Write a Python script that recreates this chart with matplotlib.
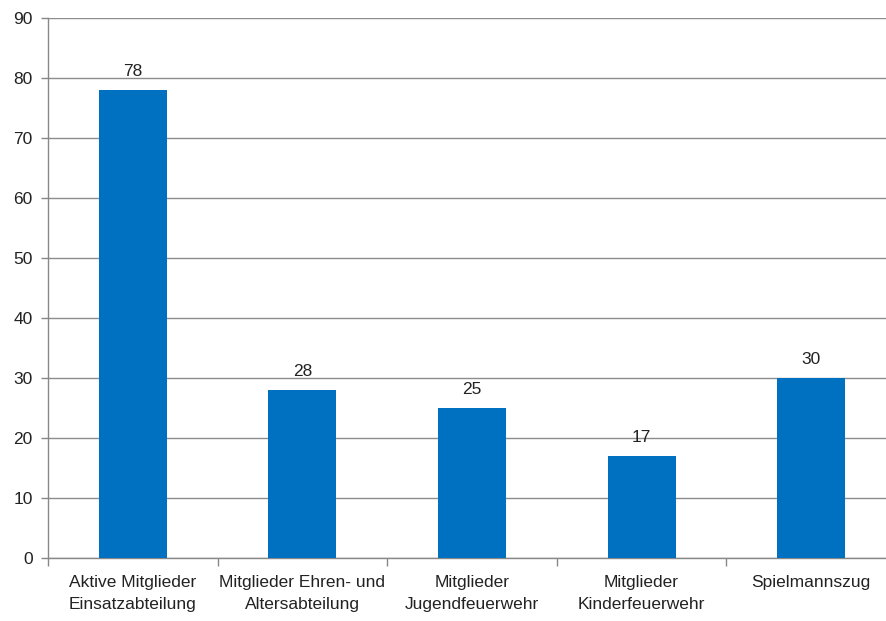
import matplotlib
matplotlib.use("Agg")
import matplotlib.pyplot as plt
import numpy as np

plt.rcParams['font.family'] = ['Liberation Sans', 'DejaVu Sans']

categories = ["Aktive Mitglieder\nEinsatzabteilung",
              "Mitglieder Ehren- und\nAltersabteilung",
              "Mitglieder\nJugendfeuerwehr",
              "Mitglieder\nKinderfeuerwehr",
              "Spielmannszug"]
members = [78, 28, 25, 17, 30]
yticks = [0, 10, 20, 30, 40, 50, 60, 70, 80, 90]

fig = plt.figure(figsize=(8.86, 6.21), dpi=100)
ax = fig.add_axes([48 / 886, 1 - 558 / 621, 848 / 886, 540 / 621])

x = np.arange(len(categories))
bars = ax.bar(x, members, width=0.40, color="#0070C0", zorder=3)

for xi, v in zip(x, members):
    ax.annotate(str(v), (xi, v), xytext=(0, 8), textcoords="offset points",
                ha="center", va="bottom", fontsize=12.5, color="#222222")

ax.set_xlim(-0.5, len(categories) - 0.5)
ax.set_ylim(0, 90)
ax.set_yticks(yticks)
ax.tick_params(axis="y", length=5, width=1, color="#888888", labelsize=12.5,
               labelcolor="#222222", pad=6)

# category labels centred, tick marks between categories
ax.set_xticks(x)
ax.set_xticklabels(categories, fontsize=12.5, color="#222222", linespacing=1.65)
ax.tick_params(axis="x", length=0, pad=12)
ax.set_xticks(np.arange(len(categories) + 1) - 0.5, minor=True)
ax.tick_params(axis="x", which="minor", length=6, width=1, color="#888888")

ax.grid(axis="y", color="#8c8c8c", linewidth=1, zorder=0)
for side in ["top", "right"]:
    ax.spines[side].set_visible(False)
for side in ["left", "bottom"]:
    ax.spines[side].set_color("#888888")
    ax.spines[side].set_linewidth(1)

fig.savefig("out.png", dpi=100)
